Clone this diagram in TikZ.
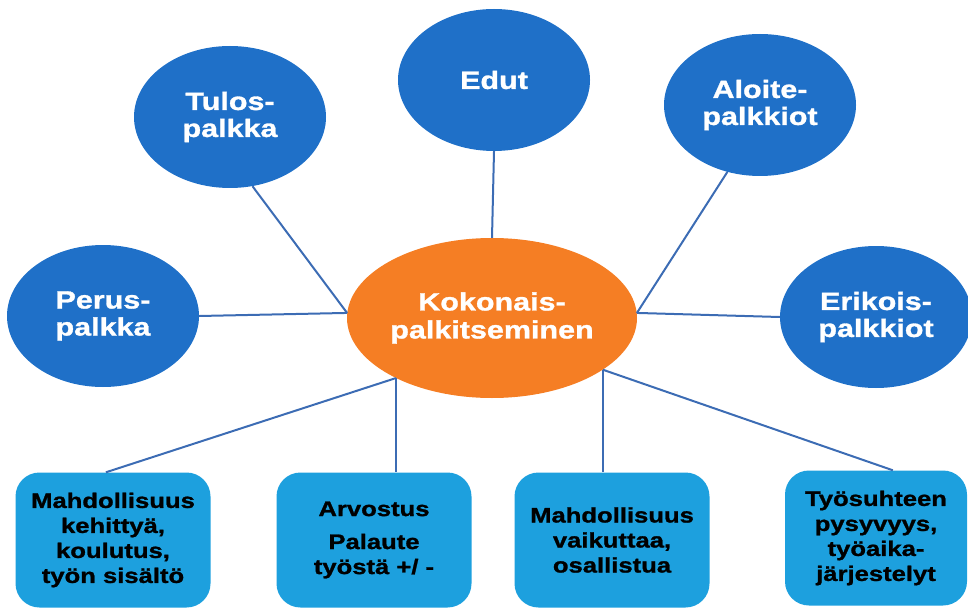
\documentclass[tikz,border=0pt]{standalone}
\usepackage{fontspec}
\setmainfont{Liberation Sans}[FakeStretch=1.22, BoldFeatures={FakeBold=1.2}]
\usepackage{xcolor}
\usepackage{tikz}
\usetikzlibrary{shapes.geometric}

\definecolor{partblue}{RGB}{31,112,200}
\definecolor{tileblue}{RGB}{29,160,222}
\definecolor{huborange}{RGB}{245,126,36}
\definecolor{linkblue}{RGB}{60,108,180}

\begin{document}
\begin{tikzpicture}[
  x=1pt, y=-1pt,
  % connector
  link/.style={draw=linkblue, line width=2pt},
  % outer ellipses
  part/.style={ellipse, fill=partblue, text=white,
               minimum width=192pt, minimum height=142pt, inner sep=0pt,
               align=center, font=\fontsize{25}{27}\selectfont\bfseries},
  % centre ellipse
  hub/.style={ellipse, fill=huborange, text=white,
              minimum width=290pt, minimum height=160pt, inner sep=0pt,
              align=center, font=\fontsize{25}{28}\selectfont\bfseries},
  % bottom boxes
  tile/.style={rectangle, rounded corners=24pt, fill=tileblue, text=black,
               minimum width=195pt, minimum height=135pt, inner sep=0pt,
               align=center, font=\fontsize{21}{25}\selectfont\bfseries},
]
\useasboundingbox (0,0) rectangle (968,612);

% ── Centre ───────────────────────────────────────────────────────────────
\node[hub] (kok) at (492,318) {Kokonais-\\palkitseminen};

% ── Outer ellipses ───────────────────────────────────────────────────────
\node[part] (perus)   at (103,316) {Perus-\\palkka};
\node[part] (tulos)   at (230,117) {Tulos-\\palkka};
\node[part] (edut)    at (494,80)  {Edut};
\node[part] (aloite)  at (760,105) {Aloite-\\palkkiot};
\node[part] (erikois) at (876,317) {Erikois-\\palkkiot};

% ── Bottom boxes ─────────────────────────────────────────────────────────
\node[tile] (mahd) at (113,540) {Mahdollisuus\\kehittyä,\\koulutus,\\työn sisältö};
\node[tile] (arvo) at (374,540) {Arvostus\\[8pt]Palaute\\työstä +/ -};
\node[tile] (vaik) at (612,540) {Mahdollisuus\\vaikuttaa,\\osallistua};
\node[tile, minimum width=182pt] (tyos) at (876,538)
  {Työsuhteen\\pysyvyys,\\työaika-\\järjestelyt};

% ── Connectors ───────────────────────────────────────────────────────────
\draw[link] (perus.east)   -- (kok.178);
\draw[link] (tulos.-72)    -- (kok.178);
\draw[link] (edut.south)   -- (kok.north);
\draw[link] (aloite.-116)  -- (kok.2);
\draw[link] (kok.2)        -- (erikois.west);

\draw[link] (kok.-148) -- (mahd.96);
\draw[link] (kok.-148) -- (kok.-148 |- arvo.north);
\draw[link] (kok.-25)  -- (kok.-25 |- vaik.north);
\draw[link] (kok.-25)  -- (tyos.76);

\end{tikzpicture}
\end{document}
